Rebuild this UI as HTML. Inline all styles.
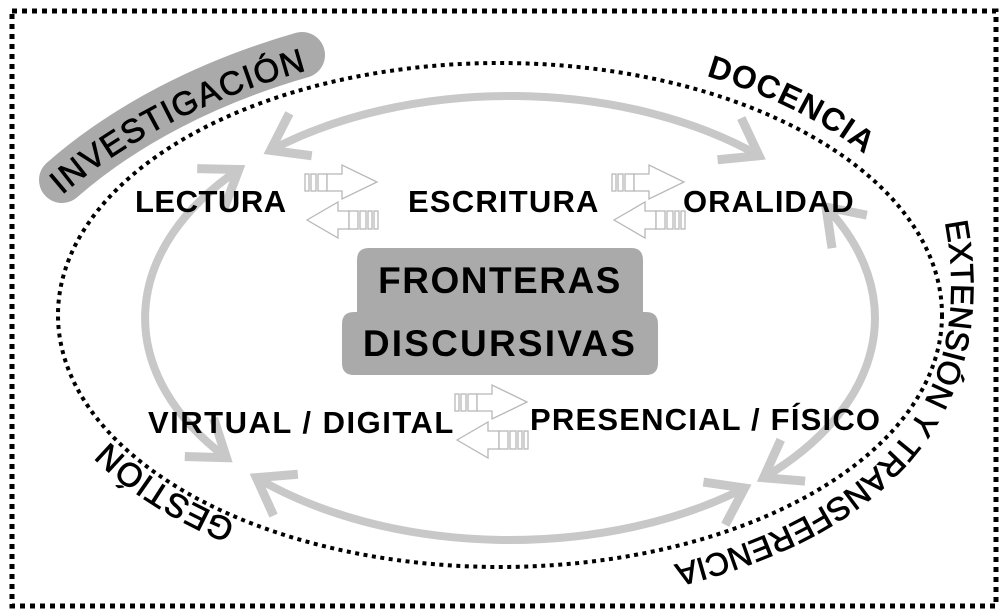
<!DOCTYPE html>
<html><head><meta charset="utf-8"><style>
html,body{margin:0;padding:0;background:#fff;}
svg{display:block;}
text{font-family:"Liberation Sans",Arial,sans-serif;fill:#000;}
.lab{font-weight:bold;font-size:31px;}
.cur{font-weight:bold;font-size:32px;}
.curn{font-weight:normal;font-size:33px;stroke:#000;stroke-width:0.8;}
</style></head><body>
<svg width="1008" height="616" viewBox="0 0 1008 616" xmlns="http://www.w3.org/2000/svg">
<defs>
<marker id="ah" markerUnits="userSpaceOnUse" markerWidth="80" markerHeight="80" refX="0" refY="0" viewBox="-50 -40 60 80" orient="auto-start-reverse" overflow="visible">
<polyline points="-34,-24 0,0 -34,24" fill="none" stroke="#c8c8c8" stroke-width="9" stroke-linecap="butt" stroke-linejoin="miter"/>
</marker>
<g id="ic" fill="#fff" stroke="#b8b8b8" stroke-width="1.3">
<rect x="0" y="9" width="4" height="17"/><rect x="6" y="9" width="5" height="17"/><rect x="13" y="9" width="9" height="17"/>
<polygon points="22,9 37,9 37,0 72,17 37,34 37,26 22,26"/>
<polygon points="2,55 33,37 33,46 44,46 44,64 33,64 33,73"/>
<rect x="44" y="46" width="9" height="18"/><rect x="55" y="46" width="6" height="18"/><rect x="63" y="46" width="4" height="18"/><rect x="69" y="46" width="4" height="18"/>
</g>
</defs>
<rect x="12" y="11" width="984" height="595" fill="none" stroke="#000" stroke-width="5" stroke-dasharray="5 5"/>
<ellipse cx="500" cy="315" rx="442" ry="252" fill="none" stroke="#000" stroke-width="4" stroke-dasharray="4 4.5"/>

<g fill="none" stroke="#c8c8c8" stroke-width="8" marker-start="url(#ah)" marker-end="url(#ah)">
<path d="M 270.5 150.4 A 365 222 0 0 1 759 155.7"/>
<path d="M 826 207 A 365 222 0 0 1 763.6 477.7"/>
<path d="M 744.6 488 A 365 222 0 0 1 256.4 477.7"/>
<path d="M 226.4 457.7 A 365 222 0 0 1 238.8 169.5"/>
</g>

<path d="M 62 180 A 600 400 0 0 1 302 55" fill="none" stroke="#aaaaaa" stroke-width="46" stroke-linecap="round"/>
<path id="pInv" d="M 62 195 A 600 400 0 0 1 440 45" fill="none"/>
<path id="pDoc" d="M 706 76 A 455 265 0 0 1 928 224" fill="none"/>
<path id="pExt" d="M 945 222 C 975 380, 905 530, 600 580" fill="none"/>
<path id="pGes" d="M 236 522 A 450 255 0 0 1 77 402" fill="none"/>
<text class="curn" letter-spacing="1.5"><textPath href="#pInv">INVESTIGACIÓN</textPath></text>
<text class="cur" letter-spacing="1"><textPath href="#pDoc">DOCENCIA</textPath></text>
<text class="curn" style="font-size:32px" letter-spacing="0"><textPath href="#pExt">EXTENSIÓN Y TRANSFERENCIA</textPath></text>
<text class="curn" letter-spacing="0.5"><textPath href="#pGes">GESTIÓN</textPath></text>

<path d="M 369 248 H 631 Q 643 248 643 260 V 312 H 646 Q 658 312 658 324 V 363 Q 658 375 646 375 H 354 Q 342 375 342 363 V 324 Q 342 312 354 312 H 357 V 260 Q 357 248 369 248 Z" fill="#aaaaaa"/>
<text x="500" y="293" text-anchor="middle" font-weight="bold" font-size="37" letter-spacing="1.5">FRONTERAS</text>
<text x="500" y="356" text-anchor="middle" font-weight="bold" font-size="37" letter-spacing="2.2">DISCURSIVAS</text>

<text class="lab" x="135" y="212" letter-spacing="0.5">LECTURA</text>
<text class="lab" x="408" y="212" letter-spacing="1.2">ESCRITURA</text>
<text class="lab" x="683" y="212" letter-spacing="1">ORALIDAD</text>
<text class="lab" x="148" y="433" letter-spacing="1.5">VIRTUAL / DIGITAL</text>
<text class="lab" x="530" y="430" letter-spacing="1.2">PRESENCIAL / FÍSICO</text>

<use href="#ic" x="305" y="165"/>
<use href="#ic" x="612" y="165"/>
<use href="#ic" x="455" y="385"/>
</svg>
</body></html>
